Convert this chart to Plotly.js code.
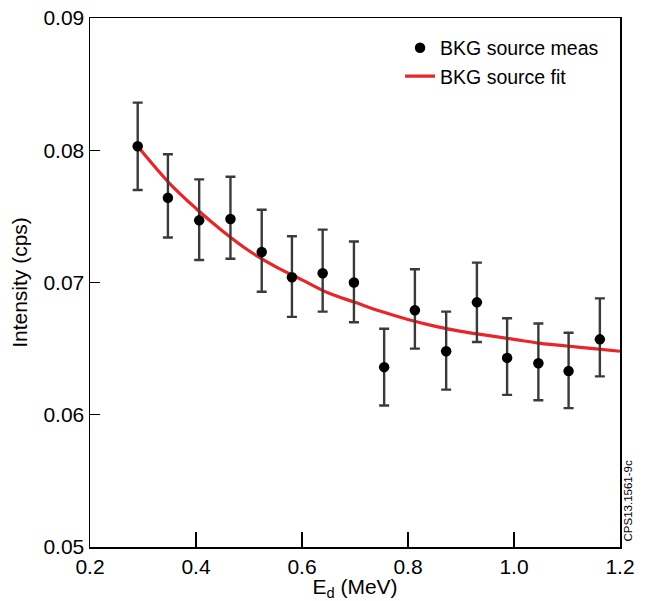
<!DOCTYPE html>
<html>
<head>
<meta charset="utf-8">
<script src="https://cdn.plot.ly/plotly-3.0.1.min.js"></script>
<style>html,body{margin:0;padding:0;background:#fff}#chart{width:646px;height:601px}</style>
</head>
<body>
<div id="chart"></div>
<script>
// Measured background source points
const measX = [0.290, 0.347, 0.406, 0.465, 0.524, 0.581, 0.639, 0.698, 0.755, 0.813, 0.872, 0.930, 0.987, 1.046, 1.103, 1.162];
const measY = [0.0803, 0.0764, 0.0747, 0.0748, 0.0723, 0.0704, 0.0707, 0.0700, 0.0636, 0.0679, 0.0648, 0.0685, 0.0643, 0.0639, 0.0633, 0.0657];
const errPlus  = [0.0033, 0.0033, 0.0031, 0.0032, 0.0032, 0.0031, 0.0033, 0.0031, 0.0029, 0.0031, 0.0030, 0.0030, 0.0030, 0.0030, 0.0029, 0.0031];
const errMinus = [0.0033, 0.0030, 0.0030, 0.0030, 0.0030, 0.0030, 0.0029, 0.0030, 0.0029, 0.0029, 0.0029, 0.0030, 0.0028, 0.0028, 0.0028, 0.0028];

// Fit curve
const fitX = [0.29, 0.35, 0.40, 0.45, 0.50, 0.55, 0.60, 0.65, 0.70, 0.75, 0.80, 0.85, 0.90, 0.95, 1.00, 1.05, 1.10, 1.15, 1.20];
const fitY = [0.0803, 0.0775, 0.0756, 0.0739, 0.0724, 0.0712, 0.0702, 0.0692, 0.0685, 0.0678, 0.0672, 0.0667, 0.0663, 0.0660, 0.0657, 0.0654, 0.0652, 0.0650, 0.0648];

const xTicks = [0.2, 0.4, 0.6, 0.8, 1.0, 1.2];
const xTickText = ['0.2', '0.4', '0.6', '0.8', '1.0', '1.2'];
const yTicks = [0.05, 0.06, 0.07, 0.08, 0.09];
const yTickText = ['0.05', '0.06', '0.07', '0.08', '0.09'];

const FONT = 'Liberation Sans, Arial, sans-serif';

const traces = [
  {
    x: fitX, y: fitY, type: 'scatter', mode: 'lines',
    name: 'BKG source fit',
    line: {color: '#e8262a', width: 3.2, shape: 'spline'},
    legendrank: 2
  },
  {
    x: measX, y: measY, type: 'scatter', mode: 'markers',
    name: 'BKG source meas',
    marker: {color: '#000', size: 10.5},
    error_y: {type: 'data', symmetric: false, array: errPlus, arrayminus: errMinus,
              color: '#3a3a3a', thickness: 2.4, width: 5},
    legendrank: 1
  }
];

const layout = {
  width: 646, height: 601,
  margin: {l: 90, r: 26, t: 18, b: 54},
  paper_bgcolor: '#fff', plot_bgcolor: '#fff',
  font: {family: FONT, color: '#000', size: 21},
  showlegend: true,
  legend: {x: 0.585, y: 0.98, xanchor: 'left', yanchor: 'top',
           bgcolor: 'rgba(0,0,0,0)', font: {family: FONT, size: 19.5, color: '#000'},
           itemwidth: 30, tracegroupgap: 0},
  xaxis: {
    range: [0.2, 1.2], tickvals: xTicks, ticktext: xTickText,
    ticks: 'inside', ticklen: 15, tickwidth: 1.3, tickcolor: '#000',
    showline: true, linecolor: '#000', linewidth: 1.5, mirror: true,
    showgrid: false, zeroline: false,
    tickfont: {size: 21},
    title: {text: 'E<sub>d</sub> (MeV)', font: {size: 21}, standoff: 0}
  },
  yaxis: {
    range: [0.05, 0.09], tickvals: yTicks, ticktext: yTickText,
    ticks: 'inside', ticklen: 10, tickwidth: 1.3, tickcolor: '#000',
    showline: true, linecolor: '#000', linewidth: 1.5, mirror: true,
    showgrid: false, zeroline: false,
    tickfont: {size: 21},
    title: {text: 'Intensity (cps)', font: {size: 21}, standoff: 10}
  },
  annotations: [{
    text: 'CPS13.1561-9c', xref: 'paper', yref: 'paper',
    x: 1.0, y: 0.0, xanchor: 'left', yanchor: 'bottom', xshift: -1, yshift: 3,
    textangle: -90, showarrow: false,
    font: {family: FONT, size: 11.5, color: '#000'}
  }]
};

Plotly.newPlot('chart', traces, layout, {displayModeBar: false, staticPlot: true});
</script>
</body>
</html>
